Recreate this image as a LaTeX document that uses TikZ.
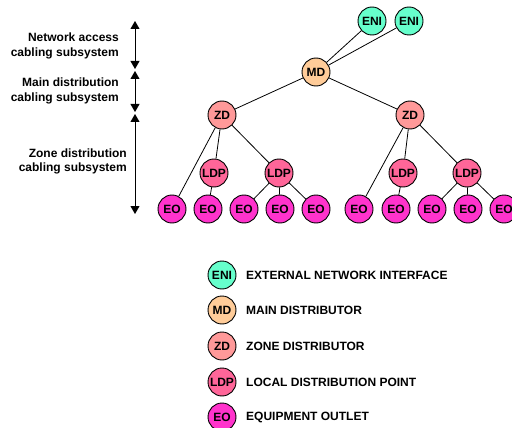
\documentclass[tikz,border=0pt]{standalone}
\usepackage{fontspec}
\setmainfont{Liberation Sans}
\usetikzlibrary{arrows.meta}
\definecolor{eniC}{HTML}{66FFCC}
\definecolor{mdC}{HTML}{FFCC99}
\definecolor{zdC}{HTML}{FF9999}
\definecolor{ldpC}{HTML}{FF6699}
\definecolor{eoC}{HTML}{FF33CC}
\begin{document}
\begin{tikzpicture}[x=1pt,y=-1pt,
  dev/.style={circle,draw=black,line width=0.9pt,minimum size=28pt,inner sep=0pt,font=\fontsize{12}{12}\selectfont\bfseries},
  eni/.style={dev,fill=eniC},
  md/.style={dev,fill=mdC},
  zd/.style={dev,fill=zdC},
  ldp/.style={dev,fill=ldpC},
  eo/.style={dev,fill=eoC},
  link/.style={draw=black,line width=0.8pt},
  span/.style={line width=0.9pt,{Triangle[width=9pt,length=8pt]}-{Triangle[width=9pt,length=8pt]}},
  lbl/.style={align=right,font=\fontsize{12}{14.5}\selectfont\bfseries,inner sep=0pt},
  leg/.style={anchor=west,font=\fontsize{12}{12}\selectfont\bfseries,inner sep=0pt}]
\useasboundingbox (0,0) rectangle (512,428);
% tree nodes
\node[eni] (eniA) at (372,21) {ENI};
\node[eni] (eniB) at (409,21) {ENI};
\node[md] (md) at (316,72) {MD};
\node[zd] (zdL) at (222,115) {ZD};
\node[zd] (zdR) at (410,115) {ZD};
\node[ldp] (ldp1) at (214,173) {LDP};
\node[ldp] (ldp2) at (279,173) {LDP};
\node[ldp] (ldp3) at (403,173) {LDP};
\node[ldp] (ldp4) at (467,173) {LDP};
\node[eo] (eo1) at (172,209) {EO};
\node[eo] (eo2) at (208,209) {EO};
\node[eo] (eo3) at (244,209) {EO};
\node[eo] (eo4) at (280,209) {EO};
\node[eo] (eo5) at (316,209) {EO};
\node[eo] (eo6) at (359,209) {EO};
\node[eo] (eo7) at (396,209) {EO};
\node[eo] (eo8) at (432,209) {EO};
\node[eo] (eo9) at (468,209) {EO};
\node[eo] (eo10) at (504,209) {EO};
% links
\draw[link] (eniA) -- (md);
\draw[link] (eniB) -- (md);
\draw[link] (md) -- (zdL);
\draw[link] (md) -- (zdR);
\draw[link] (zdL) -- (eo1);
\draw[link] (zdL) -- (ldp1);
\draw[link] (zdL) -- (ldp2);
\draw[link] (ldp1) -- (eo2);
\draw[link] (ldp2) -- (eo3);
\draw[link] (ldp2) -- (eo4);
\draw[link] (ldp2) -- (eo5);
\draw[link] (zdR) -- (eo6);
\draw[link] (zdR) -- (ldp3);
\draw[link] (zdR) -- (ldp4);
\draw[link] (ldp3) -- (eo7);
\draw[link] (ldp4) -- (eo8);
\draw[link] (ldp4) -- (eo9);
\draw[link] (ldp4) -- (eo10);
% span arrows
\coordinate (a1) at (135,21);
\coordinate (a2) at (135,69);
\coordinate (b1) at (135,71);
\coordinate (b2) at (135,112);
\coordinate (c1) at (135,114);
\coordinate (c2) at (135,214);
\draw[span] (a1) -- (a2);
\draw[span] (b1) -- (b2);
\draw[span] (c1) -- (c2);
\node[lbl,anchor=east] (l1) at (119,46) {Network access\\cabling subsystem};
\node[lbl,anchor=east] (l2) at (119,91) {Main distribution\\cabling subsystem};
\node[lbl,anchor=east] (l3) at (127,161.5) {Zone distribution\\cabling subsystem};
% legend
\node[eni] (kEni) at (222,275) {ENI};
\node[md] (kMd) at (222,310) {MD};
\node[zd] (kZd) at (222,346) {ZD};
\node[ldp] (kLdp) at (222,382) {LDP};
\node[eo] (kEo) at (222,417) {EO};
\node[leg] (tEni) at (246,275) {EXTERNAL NETWORK INTERFACE};
\node[leg] (tMd) at (246,310) {MAIN DISTRIBUTOR};
\node[leg] (tZd) at (246,346) {ZONE DISTRIBUTOR};
\node[leg] (tLdp) at (246,382) {LOCAL DISTRIBUTION POINT};
\node[leg] (tEo) at (246,417) {EQUIPMENT OUTLET};
\end{tikzpicture}
\end{document}
